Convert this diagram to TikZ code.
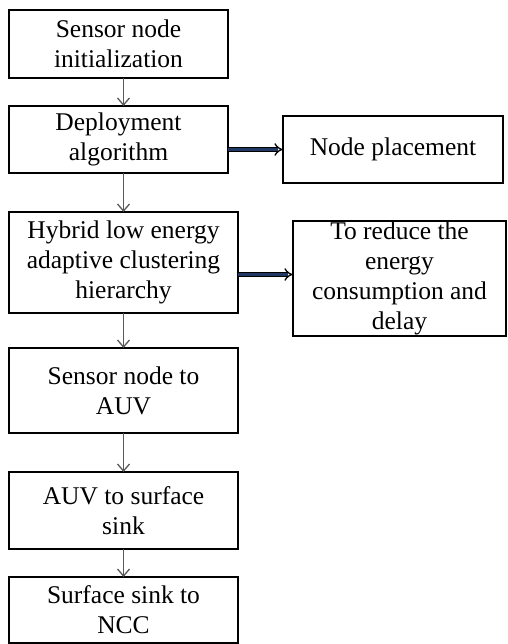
\documentclass[tikz,border=0pt]{standalone}
\usepackage{fontspec}
\setmainfont{Liberation Serif}
\usepackage{xcolor}
\usepackage{tikz}
\usetikzlibrary{arrows.meta, positioning}

\definecolor{navycore}{RGB}{31,56,100}

\begin{document}
\begin{tikzpicture}[
    x=1pt, y=1pt,
    stepbox/.style={rectangle, draw=black, line width=2.4pt, outer sep=0pt, inner sep=1pt, minimum width=229pt, align=center, font=\fontsize{25.5}{30}\selectfont},
    sidebox/.style={stepbox, minimum width=220pt},
    arrow/.style={-{Straight Barb[length=7pt, width=12pt, line width=1.3pt]}, line width=1.3pt, draw=black!65},
    dblarrow/.style={-{Implies}, draw=black, line width=1.3pt, double=navycore, double distance=3pt}
]
\useasboundingbox (0,0) rectangle (507,644);

% Main column
\node[stepbox, minimum width=219pt, minimum height=68pt, anchor=north west] (init) at (9,634) {Sensor node\\initialization};
\node[stepbox, minimum width=219pt, minimum height=67pt, below=28pt of init.south west, anchor=north west] (deploy) {Deployment\\algorithm};
\node[stepbox, minimum height=101pt, below=39pt of deploy.south west, anchor=north west] (hybrid) {Hybrid low energy\\adaptive clustering\\hierarchy};
\node[stepbox, minimum height=85pt, below=35pt of hybrid] (toauv) {Sensor node to\\AUV};
\node[stepbox, minimum height=77pt, below=39pt of toauv] (tosink) {AUV to surface\\sink};
\node[stepbox, minimum height=66pt, below=28pt of tosink] (toncc) {Surface sink to\\NCC};

% Side boxes
\node[sidebox, minimum height=67pt, right=55pt of deploy, yshift=-10pt] (place) {Node placement};
\node[sidebox, minimum width=213pt, minimum height=113pt, right=55pt of hybrid, yshift=-16pt] (reduce) {To reduce the\\energy\\consumption and\\delay};

% Connectors
\draw[arrow] (init.south -| hybrid) -- (deploy.north -| hybrid);
\draw[arrow] (deploy.south -| hybrid) -- (hybrid);
\draw[arrow] (hybrid) -- (toauv);
\draw[arrow] (toauv) -- (tosink);
\draw[arrow] (tosink) -- (toncc);

\draw[dblarrow] (deploy.east |- place.west) -- (place.west);
\draw[dblarrow] ([yshift=4pt]hybrid.east |- reduce.west) -- ([yshift=4pt]reduce.west);

\end{tikzpicture}
\end{document}
